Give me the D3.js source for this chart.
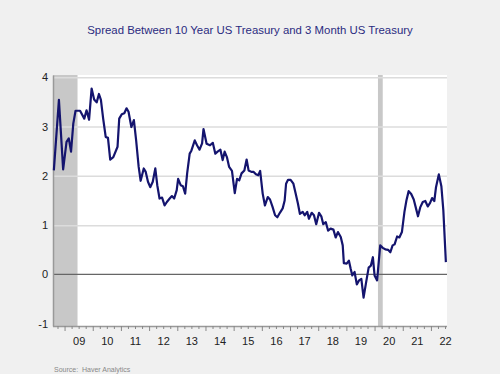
<!DOCTYPE html>
<html>
<head>
<meta charset="utf-8">
<script src="https://cdn.jsdelivr.net/npm/d3@7"></script>
<style>
  body { margin: 0; background: #f0f0f0; }
  #chart { width: 500px; height: 374px; }
  text { font-family: "Liberation Sans", Arial, sans-serif; }
</style>
</head>
<body>
<div id="chart"></div>
<script>
// decimal year of each reading, and the spread (percentage points)
const dates = [
  2008.62, 2008.80, 2008.95, 2009.07, 2009.15, 2009.23, 2009.31, 2009.39, 2009.55, 2009.70,
  2009.78, 2009.87, 2009.96, 2010.05, 2010.14, 2010.22, 2010.29, 2010.37, 2010.46, 2010.54,
  2010.62, 2010.73, 2010.88, 2010.94, 2011.03, 2011.12, 2011.20, 2011.27, 2011.37, 2011.46,
  2011.54, 2011.63, 2011.70, 2011.81, 2011.88, 2011.96, 2012.04, 2012.13, 2012.22, 2012.29,
  2012.37, 2012.46, 2012.55, 2012.63, 2012.73, 2012.81, 2012.89, 2012.98, 2013.03, 2013.12,
  2013.20, 2013.28, 2013.35, 2013.44, 2013.50, 2013.62, 2013.70, 2013.79, 2013.88, 2013.93,
  2014.04, 2014.16, 2014.26, 2014.35, 2014.43, 2014.53, 2014.61, 2014.68, 2014.76, 2014.84,
  2014.94, 2015.04, 2015.12, 2015.20, 2015.28, 2015.38, 2015.46, 2015.53, 2015.63, 2015.71,
  2015.79, 2015.87, 2015.94, 2016.03, 2016.11, 2016.21, 2016.29, 2016.38, 2016.47, 2016.55,
  2016.64, 2016.74, 2016.81, 2016.86, 2016.93, 2017.02, 2017.12, 2017.20, 2017.28, 2017.35,
  2017.45, 2017.52, 2017.61, 2017.67, 2017.77, 2017.85, 2017.93, 2018.03, 2018.11, 2018.18,
  2018.27, 2018.35, 2018.44, 2018.54, 2018.62, 2018.70, 2018.80, 2018.87, 2018.91, 2019.01,
  2019.09, 2019.15, 2019.21, 2019.29, 2019.37, 2019.45, 2019.53, 2019.61, 2019.70, 2019.79,
  2019.87, 2019.94, 2020.00, 2020.09, 2020.20, 2020.29, 2020.38, 2020.48, 2020.56, 2020.64,
  2020.71, 2020.80, 2020.88, 2020.97, 2021.06, 2021.13, 2021.21, 2021.30, 2021.39, 2021.47,
  2021.54, 2021.62, 2021.71, 2021.80, 2021.89, 2021.97, 2022.04, 2022.12, 2022.18, 2022.28,
  2022.37, 2022.44, 2022.53
];
const spread = [
  2.11, 3.54, 2.13, 2.69, 2.76, 2.49, 3.06, 3.32, 3.32, 3.16,
  3.33, 3.14, 3.77, 3.55, 3.49, 3.66, 3.54, 3.16, 2.79, 2.77,
  2.33, 2.38, 2.59, 3.16, 3.25, 3.27, 3.37, 3.30, 2.99, 3.13,
  2.72, 2.18, 1.90, 2.15, 2.08, 1.88, 1.77, 1.88, 2.15, 1.81,
  1.54, 1.56, 1.40, 1.47, 1.54, 1.59, 1.54, 1.71, 1.94, 1.81,
  1.79, 1.64, 2.05, 2.45, 2.51, 2.72, 2.62, 2.53, 2.66, 2.95,
  2.65, 2.62, 2.67, 2.45, 2.49, 2.53, 2.32, 2.49, 2.38, 2.18,
  2.10, 1.65, 1.94, 1.91, 2.05, 2.11, 2.33, 2.11, 2.08, 2.08,
  2.03, 2.01, 2.10, 1.64, 1.40, 1.57, 1.52, 1.37, 1.20, 1.16,
  1.25, 1.34, 1.50, 1.84, 1.92, 1.92, 1.84, 1.64, 1.44, 1.23,
  1.27, 1.20, 1.27, 1.13, 1.25, 1.20, 1.02, 1.25, 1.18, 1.02,
  1.06, 0.89, 0.93, 0.91, 0.75, 0.86, 0.76, 0.59, 0.23, 0.22,
  0.28, 0.12, -0.02, 0.05, -0.20, -0.12, -0.09, -0.47, -0.16, 0.14,
  0.18, 0.35, -0.02, -0.12, 0.59, 0.54, 0.51, 0.50, 0.45, 0.59,
  0.61, 0.77, 0.75, 0.86, 1.27, 1.50, 1.69, 1.63, 1.52, 1.34,
  1.18, 1.36, 1.47, 1.49, 1.38, 1.45, 1.55, 1.49, 1.77, 2.03,
  1.79, 1.30, 0.25
];
// recession periods (decimal years)
const recessions = [[2007.92, 2009.46], [2020.12, 2020.29]];
const yearLabels = ['09', '10', '11', '12', '13', '14', '15', '16', '17', '18', '19', '20', '21', '22'];
const yTicks = [-1, 0, 1, 2, 3, 4];

const data = dates.map((d, i) => ({ t: d, v: spread[i] }));

const svg = d3.select('#chart').append('svg')
  .attr('width', 500)
  .attr('height', 374);

svg.append('rect')
  .attr('width', 500).attr('height', 374)
  .attr('fill', '#f0f0f0');

const margin = { top: 75, right: 53, bottom: 48, left: 53 };
const width = 500 - margin.left - margin.right;
const height = 374 - margin.top - margin.bottom;

const x = d3.scaleLinear().domain([2008.59, 2022.57]).range([0, width]);
const y = d3.scaleLinear().domain([-1.045, 4.045]).range([height, 0]);

svg.append('text')
  .attr('x', 250)
  .attr('y', 34)
  .attr('text-anchor', 'middle')
  .attr('fill', '#2b2b80')
  .style('font-size', '11.4px')
  .text('Spread Between 10 Year US Treasury and 3 Month US Treasury');

const g = svg.append('g')
  .attr('transform', `translate(${margin.left},${margin.top})`);

g.append('rect')
  .attr('width', width).attr('height', height)
  .attr('fill', '#ffffff');

// recession shading
g.selectAll('.rec')
  .data(recessions)
  .enter().append('rect')
  .attr('class', 'rec')
  .attr('x', d => x(Math.max(d[0], x.domain()[0])))
  .attr('width', d => x(d[1]) - x(Math.max(d[0], x.domain()[0])))
  .attr('y', 0)
  .attr('height', height)
  .attr('fill', '#c8c8c8');

// gridlines
g.append('g')
  .call(d3.axisLeft(y).tickValues(yTicks.filter(v => v > 0)).tickSize(-width).tickFormat(''))
  .call(a => a.select('.domain').remove())
  .call(a => a.selectAll('line').attr('stroke', '#dcdcdc').attr('stroke-width', 1.5));

// zero line
g.append('line')
  .attr('x1', 0).attr('x2', width)
  .attr('y1', y(0)).attr('y2', y(0))
  .attr('stroke', '#666').attr('stroke-width', 1.2);

// y axis labels
g.append('g')
  .call(d3.axisLeft(y).tickValues(yTicks).tickSize(0).tickPadding(5).tickFormat(d => String(d)))
  .call(a => a.select('.domain').attr('stroke', '#999').attr('stroke-width', 1.5))
  .call(a => a.selectAll('text').attr('fill', '#222').style('font-size', '11px')
    .style('font-family', '"Liberation Sans", Arial, sans-serif'));

// x axis: quarter ticks, year ticks, labels at mid-year
const quarters = d3.range(2008.75, 2022.6, 0.25).filter(t => t > x.domain()[0] && t < x.domain()[1]);
const xAxis = g.append('g').attr('transform', `translate(0,${height})`);
xAxis.call(d3.axisBottom(x).tickValues(quarters).tickSize(3).tickFormat(''))
  .call(a => a.select('.domain').attr('stroke', '#999').attr('stroke-width', 1.5).attr('d', `M0,0.5H${width}`))
  .call(a => a.selectAll('line').attr('stroke', '#888')
    .attr('y2', d => Number.isInteger(d) ? 5 : 3));

const labelPos = yearLabels.map(l => 2000 + (+l) + 0.5);
xAxis.append('g')
  .call(d3.axisBottom(x).tickValues(labelPos).tickSize(0).tickPadding(11)
    .tickFormat((d, i) => yearLabels[i]))
  .call(a => a.select('.domain').remove())
  .call(a => a.selectAll('text').attr('fill', '#222').style('font-size', '11px')
    .style('font-family', '"Liberation Sans", Arial, sans-serif'));

const line = d3.line()
  .x(d => x(d.t))
  .y(d => y(d.v));

g.append('path')
  .datum(data)
  .attr('fill', 'none')
  .attr('stroke', '#14146e')
  .attr('stroke-width', 2.2)
  .attr('stroke-linejoin', 'round')
  .attr('d', line);

svg.append('text')
  .attr('x', 54)
  .attr('y', 372)
  .attr('fill', '#888')
  .style('font-size', '7px')
  .attr('xml:space', 'preserve')
  .text('Source:  Haver Analytics');
</script>
</body>
</html>
